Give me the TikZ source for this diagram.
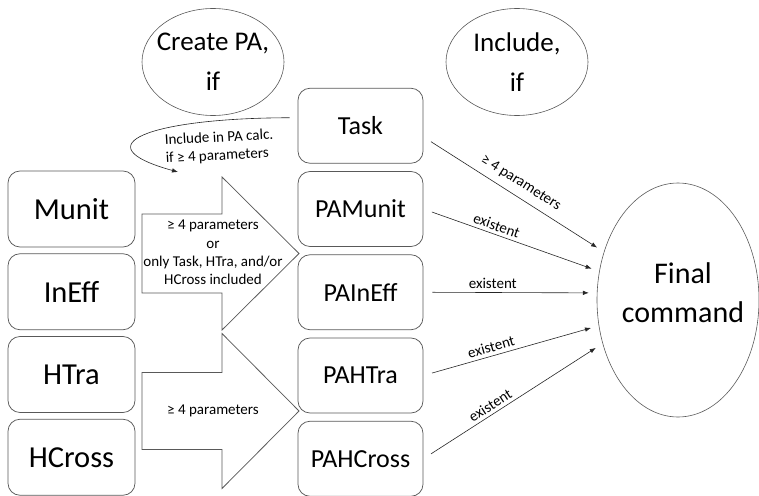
\documentclass[tikz,border=0pt]{standalone}
\usepackage{fontspec}
\setmainfont{Carlito}
\usetikzlibrary{shapes,arrows.meta,positioning}

\begin{document}
\begin{tikzpicture}[
    x=1pt, y=-1pt,
    node distance=6pt,
    unit/.style={rectangle, draw=black!65, line width=0.75pt, rounded corners=12pt, minimum width=127pt, minimum height=76pt, font=\fontsize{30.5}{36}\selectfont},
    pa/.style={rectangle, draw=black!65, line width=0.75pt, rounded corners=12pt, minimum width=125pt, minimum height=75pt, font=\fontsize{26}{31}\selectfont},
    question/.style={ellipse, draw=black!65, line width=0.6pt, inner sep=0pt},
    bigtext/.style={align=center, font=\fontsize{27}{40}\selectfont},
    transfer/.style={draw=black!65, line width=0.75pt, fill=white},
    cond/.style={align=center, font=\fontsize{15}{18.3}\selectfont},
    feed/.style={-{Latex[length=6pt,width=4.5pt]}, line width=0.6pt, draw=black!85, shorten >=8pt, shorten <=9pt},
    tag/.style={font=\fontsize{15}{17}\selectfont, sloped, above, pos=0.4},
]
    \useasboundingbox (0,0) rectangle (759,495);

    % headers
    \node[question, minimum width=142pt, minimum height=107pt] (create) at (213,62) {};
    \node[bigtext] at (create) {Create PA,\\if};
    \node[question, minimum width=142pt, minimum height=107pt] (include) at (517,62) {};
    \node[bigtext] at (include) {Include,\\if};

    % big transfer arrows
    \draw[transfer] (142,214) -- (222,214) -- (222,177) -- (299,253.5) -- (222,330) -- (222,293) -- (142,293) -- cycle;
    \draw[transfer] (142,372.5) -- (222,372.5) -- (222,333.5) -- (299,411) -- (222,488.5) -- (222,449.5) -- (142,449.5) -- cycle;
    \node[cond] (pacond) at (213,252.5) {≥ 4 parameters\\or\\only Task, HTra, and/or\\HCross included};
    \node[cond] (htracond) at (213,411) {≥ 4 parameters};

    % source units
    \node[unit] (munit) at (71.5,209) {Munit};
    \node[unit, below=of munit] (ineff) {InEff};
    \node[unit, below=of ineff] (htra) {HTra};
    \node[unit, below=of htra] (hcross) {HCross};

    % PA entities
    \node[pa] (pamunit) at (360.5,209) {PAMunit};
    \node[pa, above=7.5pt of pamunit] (task) {Task};
    \node[pa, below=7.5pt of pamunit] (paineff) {PAInEff};
    \node[pa, below=7.5pt of paineff] (pahtra) {PAHTra};
    \node[pa, below=7.5pt of pahtra] (pahcross) {PAHCross};

    % final command
    \node[question, minimum width=162pt, minimum height=234pt] (final) at (678,300) {};
    \node[bigtext, font=\fontsize{30}{39}\selectfont] at ([xshift=5pt,yshift=7pt]final) {Final\\command};

    % task loop
    \coordinate (calcend) at (178,172);
    \draw[-{Latex[length=6pt,width=4.5pt]}, line width=0.6pt, draw=black!85] ([xshift=-8pt,yshift=8pt]task.west) .. controls (150,118) and (80,145) .. (calcend);
    \node[cond, align=left, rotate=3] (calcnote) at (219.5,147) {Include in PA calc.\\if ≥ 4 parameters};

    % into final command
    \draw[feed] (task.-10) -- node[tag, pos=0.5, above=4pt] {≥ 4 parameters} (final.147);
    \draw[feed] (pamunit.east) -- node[tag] {existent} (final.160);
    \draw[feed] (paineff.east) -- node[tag] {existent} (final.175);
    \draw[feed] (pahtra.east) -- node[tag] {existent} (final.198);
    \draw[feed] (pahcross.east) -- node[tag] {existent} (final.210);
\end{tikzpicture}
\end{document}
